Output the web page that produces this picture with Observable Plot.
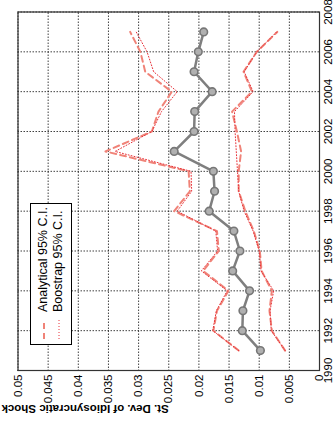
<!DOCTYPE html>
<html><head><meta charset="utf-8">
<script src="https://cdn.jsdelivr.net/npm/d3@7"></script>
<script src="https://cdn.jsdelivr.net/npm/@observablehq/plot@0.6"></script>
<style>
html,body{margin:0;padding:0;background:#fff;}
#wrap{position:relative;width:335px;height:429px;overflow:hidden;background:#fff;}
#rot{position:absolute;left:0;top:0;width:429px;height:335px;transform-origin:0 0;transform:translateY(429px) rotate(-90deg);font-family:"Liberation Sans",Arial,sans-serif;}
#rot svg{position:absolute;left:0;top:0;}
#legend{position:absolute;left:84px;top:30px;width:142px;height:42px;box-sizing:border-box;border:1px solid #000;background:#fff;font-size:12.5px;color:#000;}
#legend .row{position:absolute;left:4px;height:15px;line-height:15px;white-space:nowrap;}
#legend .row svg{position:static;vertical-align:middle;margin-right:6px;}
</style></head>
<body><div id="wrap"><div id="rot"></div></div>
<script>
const years = [1991,1992,1993,1994,1995,1996,1997,1998,1999,2000,2001,2002,2003,2004,2005,2006,2007];
const estimate = [0.0098,0.0128,0.0127,0.0116,0.0144,0.0132,0.0142,0.0183,0.0174,0.0176,0.0241,0.0208,0.0207,0.0178,0.0208,0.0201,0.0192];
const analyticalUpper = [0.0134,0.0176,0.0170,0.0151,0.0193,0.0167,0.0170,0.0241,0.0215,0.0217,0.0355,0.0278,0.0267,0.0245,0.0289,0.0297,0.0314];
const bootstrapUpper = [0.0134,0.0177,0.0171,0.0153,0.0196,0.0169,0.0172,0.0236,0.0212,0.0213,0.0339,0.0278,0.0262,0.0236,0.0275,0.0286,0.0304];
const analyticalLower = [0.0057,0.0079,0.0083,0.0079,0.0096,0.0099,0.0109,0.0123,0.0134,0.0134,0.0130,0.0137,0.0145,0.0112,0.0126,0.0104,0.0070];
const bootstrapLower = [0.0057,0.0080,0.0082,0.0076,0.0097,0.0100,0.0110,0.0125,0.0134,0.0136,0.0138,0.0140,0.0141,0.0110,0.0125,0.0104,0.0071];
const yearTicks = [1990,1992,1994,1996,1998,2000,2002,2004,2006,2008];
const valueTicks = [0,0.005,0.01,0.015,0.02,0.025,0.03,0.035,0.04,0.045,0.05];
const legendLabels = ["Analytical 95% C.I.","Boostrap 95% C.I."];
const yLabel = "St. Dev. of Idiosyncratic Shock";

const rows = (vals) => years.map((yr,i) => ({year: yr, value: vals[i]}));
const dashColor = "#f08378";
const dotColor = "#e8323a";

const chart = Plot.plot({
  width: 429, height: 335,
  marginLeft: 58, marginRight: 12.5, marginTop: 17.5, marginBottom: 16,
  style: {fontFamily: "Liberation Sans, Arial, sans-serif", fontSize: "11.5px", background: "white", color: "#000"},
  x: {domain: [1990, 2008]},
  y: {domain: [0, 0.05]},
  marks: [
    Plot.gridX(yearTicks, {stroke: "#000", strokeOpacity: 0.75, strokeDasharray: "1.5,1.5"}),
    Plot.gridY(valueTicks, {stroke: "#000", strokeOpacity: 0.75, strokeDasharray: "1.5,1.5"}),
    Plot.line(rows(analyticalUpper), {x: "year", y: "value", stroke: dashColor, strokeWidth: 2, strokeDasharray: "6,4"}),
    Plot.line(rows(analyticalLower), {x: "year", y: "value", stroke: dashColor, strokeWidth: 2, strokeDasharray: "6,4"}),
    Plot.line(rows(bootstrapUpper), {x: "year", y: "value", stroke: dotColor, strokeWidth: 1, strokeDasharray: "1,2"}),
    Plot.line(rows(bootstrapLower), {x: "year", y: "value", stroke: dotColor, strokeWidth: 1, strokeDasharray: "1,2"}),
    Plot.line(rows(estimate), {x: "year", y: "value", stroke: "#7f7f7f", strokeWidth: 2.5}),
    Plot.dot(rows(estimate), {x: "year", y: "value", r: 3.8, fill: "#b0b0b0", stroke: "#777", strokeWidth: 1.6}),
    Plot.frame({stroke: "#333", strokeWidth: 1.2}),
    Plot.axisX(yearTicks, {tickSize: 0, tickPadding: 4, tickFormat: d => String(d), label: null}),
    Plot.axisY(valueTicks, {tickSize: 0, tickPadding: 4, tickFormat: d => String(+d.toFixed(3)), label: null}),
    Plot.text([yLabel], {frameAnchor: "left", rotate: -90, dx: -38, fontWeight: "bold", fontSize: 11.5, text: d => d})
  ]
});
const rot = document.getElementById("rot");
rot.appendChild(chart);

const legend = document.createElement("div");
legend.id = "legend";
legendLabels.forEach((lab, i) => {
  const row = document.createElement("div");
  row.className = "row";
  row.style.top = (5 + i * 15) + "px";
  const dash = i === 0 ? "6,4" : "1,2";
  const col = i === 0 ? dashColor : dotColor;
  const sw = i === 0 ? 2 : 1;
  row.innerHTML = `<svg width="22" height="6"><line x1="1" y1="3" x2="21" y2="3" stroke="${col}" stroke-width="${sw}" stroke-dasharray="${dash}"/></svg>`;
  row.appendChild(document.createTextNode(lab));
  legend.appendChild(row);
});
rot.appendChild(legend);
</script>
</body></html>
